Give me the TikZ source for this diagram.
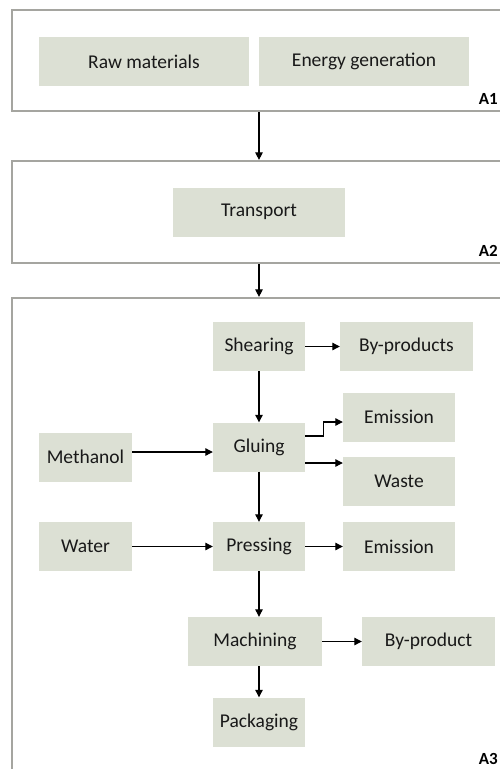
\documentclass[tikz,border=0pt]{standalone}
\usepackage{fontspec}
\setmainfont{Carlito}
\usetikzlibrary{arrows.meta,positioning,calc}
\definecolor{boxfill}{RGB}{220,224,212}
\definecolor{framegray}{RGB}{165,165,160}

\begin{document}
\begin{tikzpicture}[
    x=1pt,y=-1pt,
    font=\fontsize{19.5}{23}\selectfont,
    proc/.style={fill=boxfill, text=black!90, inner sep=0pt, minimum height=49pt, align=center},
    frame/.style={draw=framegray, line width=2.2pt, minimum width=494pt, inner sep=0pt},
    tag/.style={font=\fontsize{17}{20}\selectfont\bfseries, anchor=base east, inner sep=0pt},
    flow/.style={-{Triangle[length=7.5pt,width=7.5pt]}, line width=1.1pt}
  ]
    \useasboundingbox (0,0) rectangle (499,769);

    % Rahmen A1 / A2 / A3
    \node[frame, minimum height=101pt] (a1) at (259,60.5) {};
    \node[frame, minimum height=102pt] (a2) at (259,212) {};
    \node[frame, minimum height=480pt] (a3) at (259,538) {};
    \node[tag] (t1) at (498,104) {A1};
    \node[tag] (t2) at (498,256) {A2};
    \node[tag] (t3) at (498,764) {A3};

    % A1
    \node[proc, minimum width=210pt] (raw)    at (144,61.5) {Raw materials};
    \node[proc, minimum width=210pt] (energy) at (364,61.5) {Energy generation};

    % A2
    \node[proc, minimum width=172pt] (trans) at (259,212) {Transport};

    % A3
    \node[proc, minimum width=92pt]  (shear)   at (259,346.5) {Shearing};
    \node[proc, minimum width=133pt] (byprods) at (406.5,346.5) {By-products};
    \node[proc, minimum width=112pt] (emis1)   at (399,417) {Emission};
    \node[proc, minimum width=92pt]  (glue)    at (259,447) {Gluing};
    \node[proc, minimum width=93pt]  (meth)    at (85.5,457) {Methanol};
    \node[proc, minimum width=112pt] (waste)   at (399,481) {Waste};
    \node[proc, minimum width=93pt]  (water)   at (85.5,546.5) {Water};
    \node[proc, minimum width=92pt]  (press)   at (259,546.5) {Pressing};
    \node[proc, minimum width=112pt] (emis2)   at (399,546.5) {Emission};
    \node[proc, minimum width=134pt] (mach)    at (255,641.5) {Machining};
    \node[proc, minimum width=133pt] (byprod)  at (428.5,641.5) {By-product};
    \node[proc, minimum width=92pt]  (pack)    at (259,722) {Packaging};

    % Pfeile zwischen den Rahmen
    \draw[flow] (a1.south) -- (a2.north);
    \draw[flow] (a2.south) -- (a3.north);

    % Pfeile in A3
    \draw[flow] (shear) -- (byprods);
    \draw[flow] (shear) -- (glue);
    \coordinate (g1) at ([yshift=11pt]glue.east);
    \coordinate (e1) at ([yshift=-5pt]emis1.west);
    \draw[flow] (g1) -- ($(g1)+(18,0)$) |- (e1);
    \coordinate (g2) at ([yshift=-16pt]glue.east);
    \draw[flow] (g2) -- (waste.west |- g2);
    \coordinate (m1) at ([yshift=5pt]meth.east);
    \draw[flow] (m1) -- (glue.west |- m1);
    \draw[flow] (glue) -- (press);
    \draw[flow] (water) -- (press);
    \draw[flow] (press) -- (emis2);
    \draw[flow] (press.south) -- (press.south |- mach.north);
    \draw[flow] (mach) -- (byprod);
    \draw[flow] (pack.north |- mach.south) -- (pack.north);
  \end{tikzpicture}
\end{document}
